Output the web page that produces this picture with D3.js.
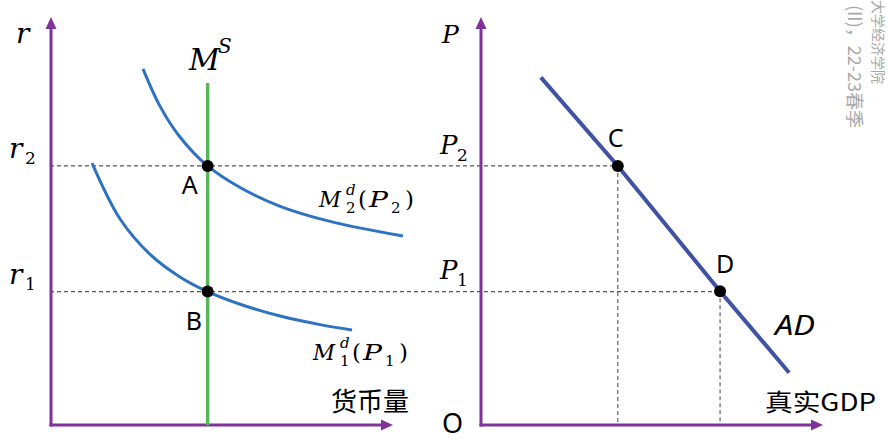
<!DOCTYPE html>
<html><head><meta charset="utf-8">
<script src="https://cdn.jsdelivr.net/npm/d3@7"></script>
<style>
html,body{margin:0;padding:0;background:#fff;}
svg{display:block;}
</style></head>
<body>
<svg id="chart" width="888" height="448"></svg>
<script>
// ---------- data (arbitrary 0-100 units) ----------
const rateLevels = [32.7, 63.5];          // r1, r2
const rateSubs = ["1", "2"];
const moneySupply = 45.8;                 // vertical M^S
const moneySupplyTop = 83.8;
const md2X = [26.9, 31.9, 37.7, 45.8, 55.3, 67.0, 81.6, 102.9];
const md2Y = [87.3, 78.1, 70.6, 63.5, 58.2, 53.6, 49.9, 46.3];
const md1X = [12.0, 20.2, 28.9, 37.7, 45.8, 55.3, 67.0, 78.7, 88.0];
const md1Y = [64.2, 50.5, 41.9, 36.3, 32.7, 29.6, 26.7, 24.6, 23.3];
const pointLabelsLeft = ["B", "A"];
const priceLevels = [32.8, 63.5];         // P1, P2
const priceSubs = ["1", "2"];
const gdpAtPrice = [69.9, 40.0];          // D, C
const pointLabelsRight = ["D", "C"];
const adX = [17.5, 40.0, 69.9, 90.1];
const adY = [85.2, 63.5, 32.8, 12.8];

// ---------- setup ----------
const svg = d3.select("#chart");
const xL = d3.scaleLinear().domain([0, 100]).range([51, 393]);
const yL = d3.scaleLinear().domain([0, 100]).range([425, 17]);
const xR = d3.scaleLinear().domain([0, 100]).range([481, 823]);
const yR = d3.scaleLinear().domain([0, 100]).range([425, 17]);

const AXIS = "#7f3399", GREEN = "#58b55c", BLUE = "#2f72c2", AD = "#3f52a3", DASH = "#555";
const SERIF = "'DejaVu Serif','Liberation Serif',serif";
const SANS = "'Noto Sans','DejaVu Sans',sans-serif";
const CJK = "'Noto Sans CJK SC',sans-serif";

function txt(x, y, s, size, opts = {}) {
  const t = svg.append("text").attr("x", x).attr("y", y).text(s)
    .attr("font-size", size)
    .attr("font-family", opts.family || SERIF)
    .attr("font-style", opts.italic ? "italic" : "normal")
    .attr("fill", opts.fill || "#000")
    .attr("text-anchor", opts.anchor || "start");
  if (opts.len) t.attr("textLength", opts.len).attr("lengthAdjust", "spacingAndGlyphs");
  return t;
}

// ---------- dashed guides ----------
const g = svg.append("g").attr("stroke", DASH).attr("stroke-width", 1.1)
  .attr("stroke-dasharray", "4,3").attr("fill", "none");
rateLevels.forEach((r, i) => {
  g.append("line").attr("x1", xL(0) - 1).attr("x2", xR(gdpAtPrice[i]))
    .attr("y1", yL(r)).attr("y2", yL(r));
});
gdpAtPrice.forEach((q, i) => {
  g.append("line").attr("x1", xR(q)).attr("x2", xR(q))
    .attr("y1", yR(priceLevels[i])).attr("y2", yR(0));
});

// ---------- axes ----------
function axisPair(xs, ys) {
  const ag = svg.append("g");
  ag.append("path").attr("d", `M${xs(0)},${ys(0) + 1.5}V${ys(100) + 9}`)
    .attr("stroke", AXIS).attr("stroke-width", 3).attr("fill", "none");
  ag.append("path").attr("d", `M${xs(0) - 1.5},${ys(0)}H${xs(100) - 9}`)
    .attr("stroke", AXIS).attr("stroke-width", 3).attr("fill", "none");
  ag.append("path").attr("d", `M${xs(0)},${ys(100)}l-5.5,12h11z`).attr("fill", AXIS);
  ag.append("path").attr("d", `M${xs(100)},${ys(0)}l-12,-5.5v11z`).attr("fill", AXIS);
}
axisPair(xL, yL);
axisPair(xR, yR);

// ---------- curves ----------
const line = d3.line().curve(d3.curveCatmullRom.alpha(0.5));
svg.append("path").attr("d", line(md2X.map((x, i) => [xL(x), yL(md2Y[i])])))
  .attr("stroke", BLUE).attr("stroke-width", 3).attr("fill", "none");
svg.append("path").attr("d", line(md1X.map((x, i) => [xL(x), yL(md1Y[i])])))
  .attr("stroke", BLUE).attr("stroke-width", 3).attr("fill", "none");
svg.append("line").attr("x1", xL(moneySupply)).attr("x2", xL(moneySupply))
  .attr("y1", yL(moneySupplyTop)).attr("y2", yL(0))
  .attr("stroke", GREEN).attr("stroke-width", 3.5);
svg.append("path").attr("d", d3.line()(adX.map((x, i) => [xR(x), yR(adY[i])])))
  .attr("stroke", AD).attr("stroke-width", 4).attr("fill", "none");

// ---------- points ----------
rateLevels.forEach(r => {
  svg.append("circle").attr("cx", xL(moneySupply)).attr("cy", yL(r)).attr("r", 6).attr("fill", "#000");
});
gdpAtPrice.forEach((q, i) => {
  svg.append("circle").attr("cx", xR(q)).attr("cy", yR(priceLevels[i])).attr("r", 6).attr("fill", "#000");
});

// ---------- point labels ----------
const lblOffL = [[-22, 38], [-26, 28]];
rateLevels.forEach((r, i) => {
  txt(xL(moneySupply) + lblOffL[i][0], yL(r) + lblOffL[i][1], pointLabelsLeft[i], 25, {family: SANS});
});
const lblOffR = [[-4, -18], [-10, -19]];
gdpAtPrice.forEach((q, i) => {
  txt(xR(q) + lblOffR[i][0], yR(priceLevels[i]) + lblOffR[i][1], pointLabelsRight[i], 25, {family: SANS});
});

// ---------- axis labels ----------
txt(16, 43, "r", 28, {italic: true});
txt(442, 43, "P", 25, {italic: true});
rateLevels.forEach((r, i) => {
  txt(9, yL(r) - 8, "r", 28, {italic: true});
  txt(25, yL(r) - 2, rateSubs[i], 17);
});
priceLevels.forEach((p, i) => {
  txt(440, yR(p) - 12, "P", 26, {italic: true});
  txt(457, yR(p) - 5, priceSubs[i], 17);
});
// M^S
txt(189, 70, "M", 30, {italic: true});
txt(218, 53, "S", 20, {italic: true});
// Md labels
function mdLabel(x0, base, sub) {
  txt(x0, base, "M", 23, {italic: true, len: 22});
  txt(x0 + 27, base - 12, "d", 15, {italic: true});
  txt(x0 + 27, base + 6, sub, 15);
  txt(x0 + 39, base, "(", 23);
  txt(x0 + 50, base, "P", 23, {italic: true, len: 19});
  txt(x0 + 72, base + 6, sub, 15);
  txt(x0 + 86, base, ")", 23);
}
mdLabel(319, 207, "2");
mdLabel(313, 360, "1");

txt(775, 335, "AD", 27, {family: SANS, italic: true, len: 40});
txt(765, 411, "真实GDP", 24, {family: CJK, len: 111});
txt(331, 411, "货币量", 26, {family: CJK});
txt(442, 433, "O", 27, {family: SANS});

// ---------- watermark ----------
svg.append("text").attr("transform", "translate(871,0) rotate(90)")
  .attr("font-family", CJK).attr("font-size", 14).attr("fill", "#a8a8a8")
  .attr("y", -2).attr("x", 0).text("大学经济学院");
svg.append("text").attr("transform", "translate(848,5) rotate(90)")
  .attr("font-family", CJK).attr("font-size", 18).attr("fill", "#a8a8a8")
  .text("(II)，22-23春季");
</script>
</body></html>
